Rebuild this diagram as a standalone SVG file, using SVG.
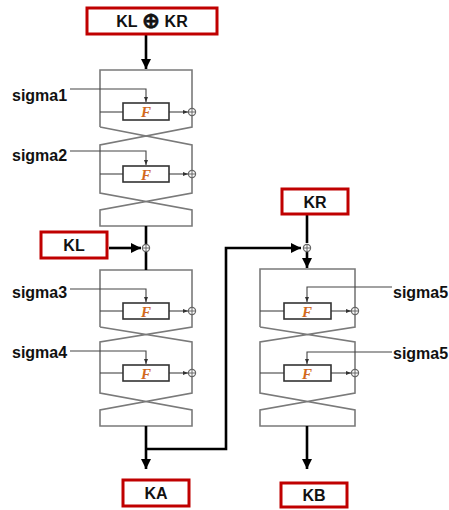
<svg xmlns="http://www.w3.org/2000/svg" width="449" height="510" viewBox="0 0 449 510">
<defs>
<style>
.lbl{fill:none;stroke:#C00000;stroke-width:3}
.lt{font-family:"Liberation Sans",Arial,sans-serif;font-weight:bold;font-size:16px;fill:#111;text-anchor:middle}
.sg{font-family:"Liberation Sans",Arial,sans-serif;font-weight:bold;font-size:16px;fill:#111}
.frame{fill:none;stroke:#7a7a7a;stroke-width:1.6}
.fbox{fill:#fff;stroke:#333;stroke-width:1.6}
.ft{font-family:"Liberation Serif","Times New Roman",serif;font-style:italic;font-weight:bold;font-size:15px;fill:#D2691E;text-anchor:middle}
.sl{fill:none;stroke:#444;stroke-width:1.1}
.thick{fill:none;stroke:#000;stroke-width:2.6}
.xor{fill:#fff;stroke:#666;stroke-width:1.2}
.xp{stroke:#666;stroke-width:1}
</style>
<marker id="ab" viewBox="0 0 10 10" refX="10" refY="5" markerWidth="4" markerHeight="4" orient="auto"><path d="M0,0 L10,5 L0,10 z" fill="#000"/></marker>
<marker id="as" viewBox="0 0 10 10" refX="10" refY="5" markerWidth="5" markerHeight="5" orient="auto"><path d="M0,1 L10,5 L0,9 z" fill="#333"/></marker>
</defs>

<g id="structure-left">
<path class="frame" d="M100,127 V70 H192 V127 L100,145 V193 L192,210 V226 H100 V210 L192,193 V145 L100,127"/>
<path class="frame" d="M100,327 V270 H192 V327 L100,342 V393 L192,410 V426 H100 V410 L192,393 V342 L100,327"/>
</g>
<g id="structure-right">
<path class="frame" d="M260,327 V269 H355 V327 L260,342 V393 L355,410 V426 H260 V410 L355,393 V342 L260,327"/>
</g>

<g id="connectors">
<line class="thick" x1="146" y1="34" x2="146" y2="69" marker-end="url(#ab)"/>
<line class="thick" x1="146" y1="226" x2="146" y2="270"/>
<line class="thick" x1="109" y1="248" x2="141" y2="248" marker-end="url(#ab)"/>
<path class="thick" d="M146,426 V469"  marker-end="url(#ab)"/>
<path class="thick" d="M146,449 H226 V248 H301" marker-end="url(#ab)"/>
<line class="thick" x1="307" y1="214" x2="307" y2="243"/>
<line class="thick" x1="307" y1="252" x2="307" y2="268" marker-end="url(#ab)"/>
<line class="thick" x1="307" y1="426" x2="307" y2="469" marker-end="url(#ab)"/>
<line class="sl" x1="100" y1="112" x2="123" y2="112"/>
<line class="sl" x1="169" y1="112" x2="188" y2="112" marker-end="url(#as)"/>
<path class="sl" d="M70,89 H146 V102" marker-end="url(#as)"/>
<line class="sl" x1="100" y1="174" x2="123" y2="174"/>
<line class="sl" x1="169" y1="174" x2="188" y2="174" marker-end="url(#as)"/>
<path class="sl" d="M70,151 H146 V165" marker-end="url(#as)"/>
<line class="sl" x1="100" y1="311" x2="123" y2="311"/>
<line class="sl" x1="169" y1="311" x2="188" y2="311" marker-end="url(#as)"/>
<path class="sl" d="M70,289 H146 V302" marker-end="url(#as)"/>
<line class="sl" x1="100" y1="373" x2="123" y2="373"/>
<line class="sl" x1="169" y1="373" x2="188" y2="373" marker-end="url(#as)"/>
<path class="sl" d="M70,351 H146 V364" marker-end="url(#as)"/>
<line class="sl" x1="260" y1="311" x2="284" y2="311"/>
<line class="sl" x1="331" y1="311" x2="351" y2="311" marker-end="url(#as)"/>
<path class="sl" d="M392,287 H307 V302" marker-end="url(#as)"/>
<line class="sl" x1="260" y1="373" x2="284" y2="373"/>
<line class="sl" x1="331" y1="373" x2="351" y2="373" marker-end="url(#as)"/>
<path class="sl" d="M392,352 H307 V364" marker-end="url(#as)"/>
</g>

<g id="xors">
<g><circle class="xor" cx="192" cy="112" r="3.6"/><path class="xp" d="M188.4,112 H195.6 M192,108.4 V115.6"/></g>
<g><circle class="xor" cx="192" cy="174" r="3.6"/><path class="xp" d="M188.4,174 H195.6 M192,170.4 V177.6"/></g>
<g><circle class="xor" cx="146" cy="248" r="3.6"/><path class="xp" d="M142.4,248 H149.6 M146,244.4 V251.6"/></g>
<g><circle class="xor" cx="192" cy="311" r="3.6"/><path class="xp" d="M188.4,311 H195.6 M192,307.4 V314.6"/></g>
<g><circle class="xor" cx="192" cy="373" r="3.6"/><path class="xp" d="M188.4,373 H195.6 M192,369.4 V376.6"/></g>
<g><circle class="xor" cx="307" cy="248" r="3.6"/><path class="xp" d="M303.4,248 H310.6 M307,244.4 V251.6"/></g>
<g><circle class="xor" cx="355" cy="311" r="3.6"/><path class="xp" d="M351.4,311 H358.6 M355,307.4 V314.6"/></g>
<g><circle class="xor" cx="355" cy="373" r="3.6"/><path class="xp" d="M351.4,373 H358.6 M355,369.4 V376.6"/></g>
</g>

<g id="F1"><rect class="fbox" x="123" y="103" width="46" height="17"/><text class="ft" x="146" y="117">F</text></g>
<g id="F2"><rect class="fbox" x="123" y="166" width="46" height="16"/><text class="ft" x="146" y="179.5">F</text></g>
<g id="F3"><rect class="fbox" x="123" y="303" width="46" height="16"/><text class="ft" x="146" y="316.5">F</text></g>
<g id="F4"><rect class="fbox" x="123" y="365" width="46" height="16"/><text class="ft" x="146" y="378.5">F</text></g>
<g id="F5"><rect class="fbox" x="284" y="303" width="47" height="16"/><text class="ft" x="307" y="316.5">F</text></g>
<g id="F6"><rect class="fbox" x="284" y="365" width="47" height="16"/><text class="ft" x="307" y="378.5">F</text></g>

<g id="sigmas">
<text class="sg" x="12" y="101">sigma1</text>
<text class="sg" x="12" y="161">sigma2</text>
<text class="sg" x="12" y="298">sigma3</text>
<text class="sg" x="12" y="358">sigma4</text>
<text class="sg" x="393" y="298">sigma5</text>
<text class="sg" x="393" y="359">sigma5</text>
</g>

<g id="KLxorKR"><rect class="lbl" x="87" y="8" width="130" height="26"/><text class="lt" x="152" y="27">KL <tspan font-size="22px" font-family="DejaVu Sans,sans-serif" stroke="#111" stroke-width="0.6" dy="1">⊕</tspan><tspan dy="-1"> KR</tspan></text></g>
<g id="KL"><rect class="lbl" x="41" y="232" width="66" height="26"/><text class="lt" x="74" y="251">KL</text></g>
<g id="KR"><rect class="lbl" x="282" y="189" width="66" height="25"/><text class="lt" x="315" y="208">KR</text></g>
<g id="KA"><rect class="lbl" x="123" y="480" width="66" height="26"/><text class="lt" x="156" y="499">KA</text></g>
<g id="KB"><rect class="lbl" x="281" y="483" width="66" height="24"/><text class="lt" x="314" y="501">KB</text></g>
</svg>
